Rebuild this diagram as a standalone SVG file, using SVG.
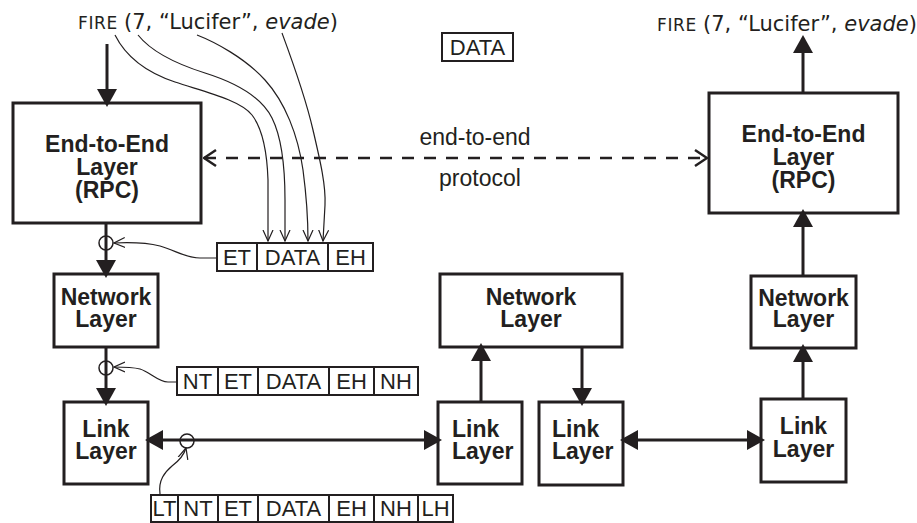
<svg xmlns="http://www.w3.org/2000/svg" width="917" height="523" viewBox="0 0 917 523">
<defs>
<style>
.box{fill:#fff;stroke:#231f20;stroke-width:3}
.lbl{font-family:"Liberation Sans",Arial,sans-serif;font-weight:bold;font-size:23px;fill:#231f20;text-anchor:middle}
.lbls{font-family:"Liberation Sans",Arial,sans-serif;font-weight:bold;font-size:23px;fill:#231f20}
.cell{fill:#fff;stroke:#231f20;stroke-width:2}
.ct{font-family:"Liberation Sans",Arial,sans-serif;font-size:22px;fill:#231f20;text-anchor:middle}
.txt{font-family:"Liberation Sans",Arial,sans-serif;font-size:23px;fill:#231f20;text-anchor:middle}
.fire{font-family:"DejaVu Sans",Verdana,sans-serif;fill:#231f20}
.sc{font-family:"DejaVu Sans",Verdana,sans-serif;fill:#231f20;font-size:17px;letter-spacing:0.6px}
.main{fill:none;stroke:#231f20;stroke-width:3}
.thin{fill:none;stroke:#231f20;stroke-width:1.2}
.ring{fill:none;stroke:#231f20;stroke-width:1.5}
.dash{fill:none;stroke:#231f20;stroke-width:2.5;stroke-dasharray:12 10}
</style>
<marker id="ah" viewBox="0 0 18 20" refX="14" refY="10" markerWidth="18" markerHeight="20" markerUnits="userSpaceOnUse" orient="auto-start-reverse">
<path d="M0,0 L18,10 L0,20 z" fill="#231f20"/>
</marker>
<marker id="oa" viewBox="0 0 14 20" refX="13" refY="10" markerWidth="14" markerHeight="20" markerUnits="userSpaceOnUse" orient="auto-start-reverse">
<path d="M1,2 L13,10 L1,18" fill="none" stroke="#231f20" stroke-width="2.5"/>
</marker>
<marker id="ca" viewBox="0 0 12 12" refX="11" refY="6" markerWidth="12" markerHeight="12" markerUnits="userSpaceOnUse" orient="auto">
<path d="M0,1 L11,6 L0,11" fill="none" stroke="#231f20" stroke-width="1.2"/>
</marker>
</defs>
<rect width="917" height="523" fill="#fff"/>

<g id="fire-left">
<text class="sc" x="78" y="29">FIRE</text>
<text class="fire" x="124" y="29" font-size="21">(7, “Lucifer”, <tspan font-style="italic">evade</tspan>)</text>
</g>
<g id="fire-right">
<text class="sc" x="657" y="31">FIRE</text>
<text class="fire" x="703" y="31" font-size="21">(7, “Lucifer”, <tspan font-style="italic">evade</tspan>)</text>
</g>
<g id="data-top">
<rect class="cell" x="442" y="33" width="71" height="28"/>
<text class="ct" x="477.5" y="55">DATA</text>
</g>

<g id="e2e-left">
<rect class="box" x="13" y="103" width="188" height="120"/>
<text class="lbl" x="107" y="152">End-to-End<tspan x="107" dy="23">Layer</tspan><tspan x="107" dy="23">(RPC)</tspan></text>
</g>
<g id="e2e-right">
<rect class="box" x="709" y="93" width="189" height="120"/>
<text class="lbl" x="803.5" y="142">End-to-End<tspan x="803.5" dy="23">Layer</tspan><tspan x="803.5" dy="23">(RPC)</tspan></text>
</g>
<g id="net-left">
<rect class="box" x="54" y="274" width="104" height="73"/>
<text class="lbl" x="106" y="305">Network<tspan x="106" dy="22">Layer</tspan></text>
</g>
<g id="net-mid">
<rect class="box" x="440" y="274" width="182" height="73"/>
<text class="lbl" x="531" y="305">Network<tspan x="531" dy="22">Layer</tspan></text>
</g>
<g id="net-right">
<rect class="box" x="751" y="276" width="105" height="72"/>
<text class="lbl" x="803.5" y="306">Network<tspan x="803.5" dy="21">Layer</tspan></text>
</g>
<g id="link-1">
<rect class="box" x="64" y="402" width="84" height="82"/>
<text class="lbl" x="106" y="437">Link<tspan x="106" dy="22">Layer</tspan></text>
</g>
<g id="link-2">
<rect class="box" x="438" y="402" width="84" height="82"/>
<text class="lbls" x="452" y="437">Link<tspan x="452" dy="22">Layer</tspan></text>
</g>
<g id="link-3">
<rect class="box" x="539" y="402" width="84" height="83"/>
<text class="lbls" x="552" y="437">Link<tspan x="552" dy="22">Layer</tspan></text>
</g>
<g id="link-4">
<rect class="box" x="761" y="399" width="85" height="83"/>
<text class="lbl" x="803.5" y="434">Link<tspan x="803.5" dy="23">Layer</tspan></text>
</g>

<g id="packet-e">
<rect class="cell" x="217" y="243" width="40" height="28"/>
<rect class="cell" x="257" y="243" width="71" height="28"/>
<rect class="cell" x="328" y="243" width="45" height="28"/>
<text class="ct" x="237" y="265">ET</text>
<text class="ct" x="292.5" y="265">DATA</text>
<text class="ct" x="350.5" y="265">EH</text>
</g>
<g id="packet-n">
<rect class="cell" x="177" y="367" width="41" height="28"/>
<rect class="cell" x="218" y="367" width="40" height="28"/>
<rect class="cell" x="258" y="367" width="71" height="28"/>
<rect class="cell" x="329" y="367" width="45" height="28"/>
<rect class="cell" x="374" y="367" width="44" height="28"/>
<text class="ct" x="197.5" y="389">NT</text>
<text class="ct" x="238" y="389">ET</text>
<text class="ct" x="293.5" y="389">DATA</text>
<text class="ct" x="351.5" y="389">EH</text>
<text class="ct" x="396" y="389">NH</text>
</g>
<g id="packet-l">
<rect class="cell" x="151" y="495" width="27" height="27"/>
<rect class="cell" x="178" y="495" width="40" height="27"/>
<rect class="cell" x="218" y="495" width="40" height="27"/>
<rect class="cell" x="258" y="495" width="71" height="27"/>
<rect class="cell" x="329" y="495" width="45" height="27"/>
<rect class="cell" x="374" y="495" width="44" height="27"/>
<rect class="cell" x="418" y="495" width="35" height="27"/>
<text class="ct" x="164.5" y="516">LT</text>
<text class="ct" x="198" y="516">NT</text>
<text class="ct" x="238" y="516">ET</text>
<text class="ct" x="293.5" y="516">DATA</text>
<text class="ct" x="351.5" y="516">EH</text>
<text class="ct" x="396" y="516">NH</text>
<text class="ct" x="435.5" y="516">LH</text>
</g>

<g id="protocol-label">
<text class="txt" x="475" y="145">end-to-end</text>
<text class="txt" x="480" y="186">protocol</text>
</g>

<g id="connectors">
<path class="main" d="M107,44 V103" marker-end="url(#ah)"/>
<path class="main" d="M106,224 V274" marker-end="url(#ah)"/>
<path class="main" d="M106,348 V402" marker-end="url(#ah)"/>
<path class="main" d="M149,440 H438" marker-start="url(#ah)" marker-end="url(#ah)"/>
<path class="main" d="M481,402 V347" marker-end="url(#ah)"/>
<path class="main" d="M582,347 V402" marker-end="url(#ah)"/>
<path class="main" d="M624,440 H761" marker-start="url(#ah)" marker-end="url(#ah)"/>
<path class="main" d="M803,399 V348" marker-end="url(#ah)"/>
<path class="main" d="M803,276 V213" marker-end="url(#ah)"/>
<path class="main" d="M803,93 V39" marker-end="url(#ah)"/>
<path class="dash" d="M204,158 H707" marker-start="url(#oa)" marker-end="url(#oa)"/>
<circle class="ring" cx="106" cy="243" r="7"/>
<circle class="ring" cx="106" cy="368" r="7"/>
<circle class="ring" cx="187" cy="441" r="7"/>
<path class="thin" d="M115,35 C125,55 145,72 175,82 C205,92 240,100 252,115 C262,128 267,150 268,180 L268,241" marker-end="url(#ca)"/>
<path class="thin" d="M138,35 C150,50 170,62 205,73 C240,84 262,98 272,118 C282,138 285,165 285,200 L285,241" marker-end="url(#ca)"/>
<path class="thin" d="M197,35 C215,42 245,58 265,80 C285,102 298,135 303,170 C307,200 308,220 308,241" marker-end="url(#ca)"/>
<path class="thin" d="M282,33 C292,60 305,95 313,130 C320,160 326,185 325,205 L323,241" marker-end="url(#ca)"/>
<path class="thin" d="M217,258 L200,258 C185,258 175,250 160,246 C148,243 135,242 114,243" marker-end="url(#ca)"/>
<path class="thin" d="M177,382 L168,382 C158,382 150,372 140,369 C132,367 125,367 114,367" marker-end="url(#ca)"/>
<path class="thin" d="M160,494 C158,480 165,472 172,466 C180,460 184,455 186,448" marker-end="url(#ca)"/>
</g>
</svg>
